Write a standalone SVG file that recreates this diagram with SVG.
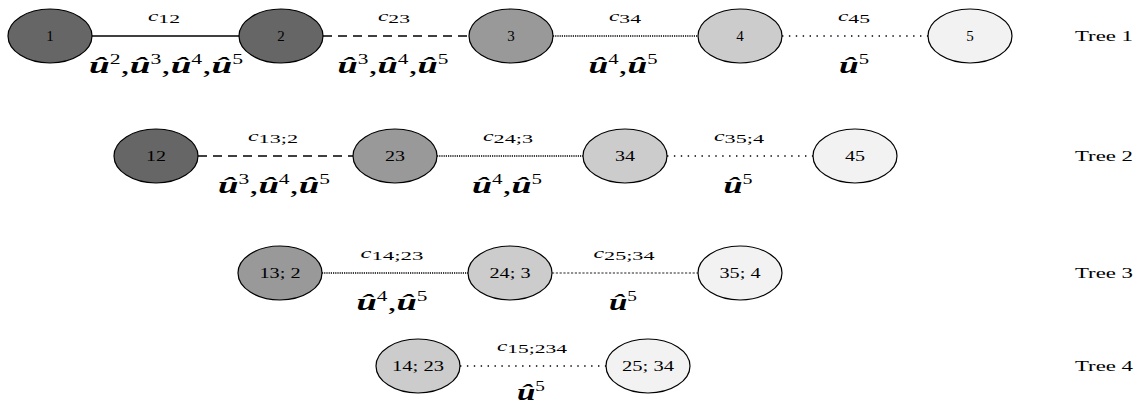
<svg xmlns="http://www.w3.org/2000/svg" width="1142" height="403" viewBox="0 0 1142 403">
<style>
  text { font-family: "Liberation Serif", "DejaVu Serif", serif; fill: #000; }
  .n { stroke: #000; stroke-width: 1.2; }
  .d1 { fill: #666666; }
  .d2 { fill: #999999; }
  .d3 { fill: #cccccc; }
  .d4 { fill: #f2f2f2; }
  .nl { font-size: 15px; text-anchor: middle; }
  .cl { font-size: 14px; text-anchor: middle; }
  .cl .c { font-style: italic; }
  .cl .s { font-size: 13px; }
  .hl { font-size: 24px; text-anchor: middle; }
  .hl .u { font-weight: bold; font-style: italic; }
  .hl .p { font-size: 14px; }
  .tl { font-size: 15px; }
  .e { fill: none; stroke: #000; }
  .solid { stroke-width: 1.3; }
  .dash { stroke-width: 1.5; stroke-dasharray: 9 6; }
  .dense { stroke-width: 1.4; stroke-dasharray: 1.2 1; }
  .loose { stroke-width: 1.5; stroke-dasharray: 1.4 5.5; }
  .thin { stroke-width: 1; stroke: #222; stroke-dasharray: 2.2 1.6; }
</style>

<g id="connectors">
  <!-- Tree 1 -->
  <line class="e solid" x1="92" y1="36" x2="239" y2="36"/>
  <line class="e dash" x1="323" y1="36" x2="469" y2="36"/>
  <line class="e dense" x1="553" y1="36" x2="698" y2="36"/>
  <line class="e loose" x1="782" y1="36" x2="928" y2="36"/>
  <!-- Tree 2 -->
  <line class="e dash" x1="198" y1="156" x2="353" y2="156"/>
  <line class="e dense" x1="437" y1="156" x2="583" y2="156"/>
  <line class="e loose" x1="667" y1="156" x2="813" y2="156"/>
  <!-- Tree 3 -->
  <line class="e dense" x1="322" y1="273" x2="468" y2="273"/>
  <line class="e thin" x1="552" y1="273" x2="698" y2="273"/>
  <!-- Tree 4 -->
  <line class="e loose" x1="460" y1="366" x2="606" y2="366"/>

  <!-- edge labels Tree 1 -->
  <text class="cl" x="164" y="21" textLength="32" lengthAdjust="spacingAndGlyphs"><tspan class="c">c</tspan><tspan class="s" dy="2">12</tspan></text>
  <text class="cl" x="394" y="21" textLength="32" lengthAdjust="spacingAndGlyphs"><tspan class="c">c</tspan><tspan class="s" dy="2">23</tspan></text>
  <text class="cl" x="625" y="21" textLength="32" lengthAdjust="spacingAndGlyphs"><tspan class="c">c</tspan><tspan class="s" dy="2">34</tspan></text>
  <text class="cl" x="854" y="21" textLength="32" lengthAdjust="spacingAndGlyphs"><tspan class="c">c</tspan><tspan class="s" dy="2">45</tspan></text>

  <text class="hl" x="166" y="73" textLength="154" lengthAdjust="spacingAndGlyphs"><tspan class="u">û</tspan><tspan class="p" dy="-9">2</tspan><tspan dy="9">,</tspan><tspan class="u">û</tspan><tspan class="p" dy="-9">3</tspan><tspan dy="9">,</tspan><tspan class="u">û</tspan><tspan class="p" dy="-9">4</tspan><tspan dy="9">,</tspan><tspan class="u">û</tspan><tspan class="p" dy="-9">5</tspan></text>
  <text class="hl" x="393" y="73" textLength="111" lengthAdjust="spacingAndGlyphs"><tspan class="u">û</tspan><tspan class="p" dy="-9">3</tspan><tspan dy="9">,</tspan><tspan class="u">û</tspan><tspan class="p" dy="-9">4</tspan><tspan dy="9">,</tspan><tspan class="u">û</tspan><tspan class="p" dy="-9">5</tspan></text>
  <text class="hl" x="623" y="73" textLength="69" lengthAdjust="spacingAndGlyphs"><tspan class="u">û</tspan><tspan class="p" dy="-9">4</tspan><tspan dy="9">,</tspan><tspan class="u">û</tspan><tspan class="p" dy="-9">5</tspan></text>
  <text class="hl" x="854" y="73" textLength="30" lengthAdjust="spacingAndGlyphs"><tspan class="u">û</tspan><tspan class="p" dy="-9">5</tspan></text>

  <!-- edge labels Tree 2 -->
  <text class="cl" x="273" y="141" textLength="50" lengthAdjust="spacingAndGlyphs"><tspan class="c">c</tspan><tspan class="s" dy="2">13;2</tspan></text>
  <text class="cl" x="508" y="141" textLength="50" lengthAdjust="spacingAndGlyphs"><tspan class="c">c</tspan><tspan class="s" dy="2">24;3</tspan></text>
  <text class="cl" x="739" y="141" textLength="50" lengthAdjust="spacingAndGlyphs"><tspan class="c">c</tspan><tspan class="s" dy="2">35;4</tspan></text>

  <text class="hl" x="274" y="193" textLength="112" lengthAdjust="spacingAndGlyphs"><tspan class="u">û</tspan><tspan class="p" dy="-9">3</tspan><tspan dy="9">,</tspan><tspan class="u">û</tspan><tspan class="p" dy="-9">4</tspan><tspan dy="9">,</tspan><tspan class="u">û</tspan><tspan class="p" dy="-9">5</tspan></text>
  <text class="hl" x="507" y="193" textLength="70" lengthAdjust="spacingAndGlyphs"><tspan class="u">û</tspan><tspan class="p" dy="-9">4</tspan><tspan dy="9">,</tspan><tspan class="u">û</tspan><tspan class="p" dy="-9">5</tspan></text>
  <text class="hl" x="738" y="193" textLength="29" lengthAdjust="spacingAndGlyphs"><tspan class="u">û</tspan><tspan class="p" dy="-9">5</tspan></text>

  <!-- edge labels Tree 3 -->
  <text class="cl" x="392" y="258" textLength="63" lengthAdjust="spacingAndGlyphs"><tspan class="c">c</tspan><tspan class="s" dy="2">14;23</tspan></text>
  <text class="cl" x="624" y="258" textLength="61" lengthAdjust="spacingAndGlyphs"><tspan class="c">c</tspan><tspan class="s" dy="2">25;34</tspan></text>

  <text class="hl" x="392" y="310" textLength="71" lengthAdjust="spacingAndGlyphs"><tspan class="u">û</tspan><tspan class="p" dy="-9">4</tspan><tspan dy="9">,</tspan><tspan class="u">û</tspan><tspan class="p" dy="-9">5</tspan></text>
  <text class="hl" x="623" y="310" textLength="28" lengthAdjust="spacingAndGlyphs"><tspan class="u">û</tspan><tspan class="p" dy="-9">5</tspan></text>

  <!-- edge labels Tree 4 -->
  <text class="cl" x="532" y="351" textLength="70" lengthAdjust="spacingAndGlyphs"><tspan class="c">c</tspan><tspan class="s" dy="2">15;234</tspan></text>
  <text class="hl" x="531" y="400" textLength="28" lengthAdjust="spacingAndGlyphs"><tspan class="u">û</tspan><tspan class="p" dy="-9">5</tspan></text>
</g>

<!-- Tree 1 nodes -->
<g id="n1"><ellipse class="n d1" cx="50" cy="36" rx="42" ry="27"/><text class="nl" x="50" y="41">1</text></g>
<g id="n2"><ellipse class="n d1" cx="281" cy="36" rx="42" ry="27"/><text class="nl" x="281" y="41">2</text></g>
<g id="n3"><ellipse class="n d2" cx="511" cy="36" rx="42" ry="27"/><text class="nl" x="511" y="41">3</text></g>
<g id="n4"><ellipse class="n d3" cx="740" cy="36" rx="42" ry="27"/><text class="nl" x="740" y="41">4</text></g>
<g id="n5"><ellipse class="n d4" cx="970" cy="36" rx="42" ry="27"/><text class="nl" x="970" y="41">5</text></g>

<!-- Tree 2 nodes -->
<g id="n12"><ellipse class="n d1" cx="156" cy="156" rx="42" ry="27"/><text class="nl" x="156" y="161" textLength="20" lengthAdjust="spacingAndGlyphs">12</text></g>
<g id="n23"><ellipse class="n d2" cx="395" cy="156" rx="42" ry="27"/><text class="nl" x="395" y="161" textLength="20" lengthAdjust="spacingAndGlyphs">23</text></g>
<g id="n34"><ellipse class="n d3" cx="625" cy="156" rx="42" ry="27"/><text class="nl" x="625" y="161" textLength="20" lengthAdjust="spacingAndGlyphs">34</text></g>
<g id="n45"><ellipse class="n d4" cx="855" cy="156" rx="42" ry="27"/><text class="nl" x="855" y="161" textLength="20" lengthAdjust="spacingAndGlyphs">45</text></g>

<!-- Tree 3 nodes -->
<g id="n13_2"><ellipse class="n d2" cx="280" cy="273" rx="42" ry="27"/><text class="nl" x="280" y="278" textLength="41" lengthAdjust="spacingAndGlyphs">13; 2</text></g>
<g id="n24_3"><ellipse class="n d3" cx="510" cy="273" rx="42" ry="27"/><text class="nl" x="510" y="278" textLength="41" lengthAdjust="spacingAndGlyphs">24; 3</text></g>
<g id="n35_4"><ellipse class="n d4" cx="740" cy="273" rx="42" ry="27"/><text class="nl" x="740" y="278" textLength="41" lengthAdjust="spacingAndGlyphs">35; 4</text></g>

<!-- Tree 4 nodes -->
<g id="n14_23"><ellipse class="n d3" cx="418" cy="366" rx="42" ry="27"/><text class="nl" x="418" y="371" textLength="52" lengthAdjust="spacingAndGlyphs">14; 23</text></g>
<g id="n25_34"><ellipse class="n d4" cx="648" cy="366" rx="42" ry="27"/><text class="nl" x="648" y="371" textLength="52" lengthAdjust="spacingAndGlyphs">25; 34</text></g>

<!-- Tree labels -->
<g id="tree-labels">
  <text class="tl" x="1075" y="41" textLength="58" lengthAdjust="spacingAndGlyphs">Tree 1</text>
  <text class="tl" x="1075" y="161" textLength="58" lengthAdjust="spacingAndGlyphs">Tree 2</text>
  <text class="tl" x="1075" y="278" textLength="58" lengthAdjust="spacingAndGlyphs">Tree 3</text>
  <text class="tl" x="1075" y="371" textLength="58" lengthAdjust="spacingAndGlyphs">Tree 4</text>
</g>
</svg>
